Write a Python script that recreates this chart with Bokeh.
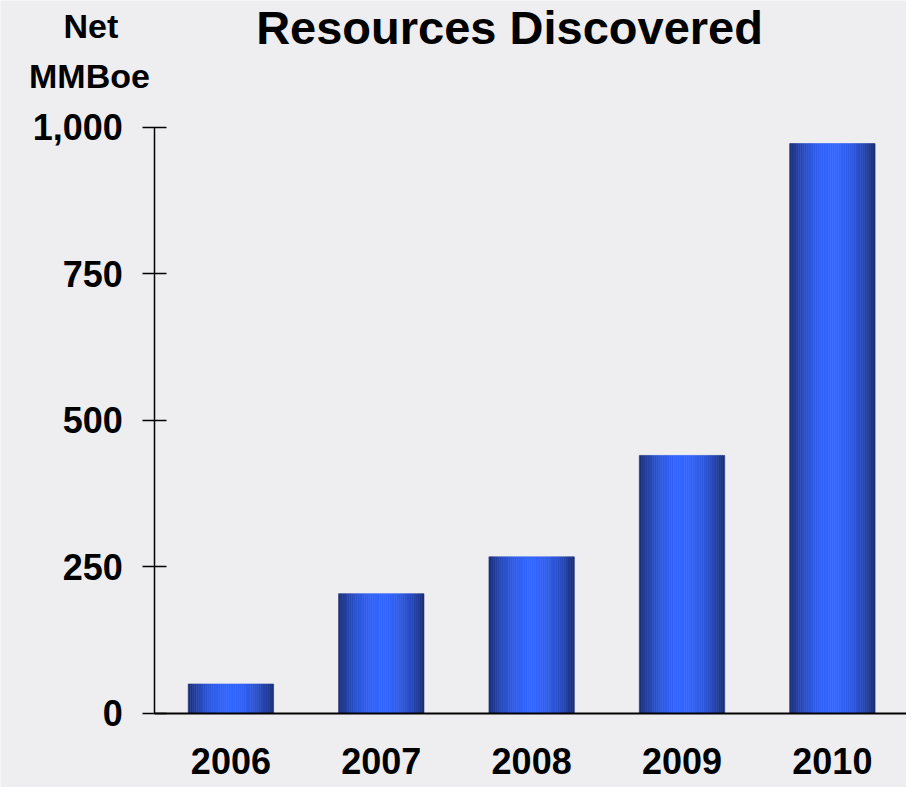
import numpy as np
from bokeh.plotting import figure
from bokeh.models import Range1d, FixedTicker, NumeralTickFormatter, Label, ColumnDataSource
from bokeh.embed import file_html
from bokeh.resources import INLINE

# ---- data ----
years = ["2006", "2007", "2008", "2009", "2010"]
resources = [50, 204, 267, 440, 972]
y_ticks = [0, 250, 500, 750, 1000]
title_text = "Resources Discovered"
unit_lines = ["Net", "MMBoe"]

BG = "#eeeef0"
FONT = "Liberation Sans"
edge_rgb = np.array([27, 46, 116])
center_rgb = np.array([51, 102, 255])

Y_AXIS_X = -0.506   # data x where the value axis stands

p = figure(width=906, height=787, output_backend="svg", toolbar_location=None,
           x_range=Range1d(-1.5324, 4.493), y_range=Range1d(-126.6, 1216.2),
           min_border_left=0, min_border_right=0, min_border_top=0, min_border_bottom=0,
           title=None)
p.background_fill_color = BG
p.border_fill_color = BG
p.outline_line_color = None
p.grid.visible = False

# ---- gradient bars (vertical slices of each bar) ----
N = 40
bar_w = 0.568
u = (np.arange(N) + 0.5) / N
t = np.abs(u - 0.5) / 0.5
w = 1 - t ** 2.0
slice_cols = ["#%02x%02x%02x" % tuple(np.round(edge_rgb + (center_rgb - edge_rgb) * wi).astype(int)) for wi in w]
xs, tops, cs = [], [], []
for i, v in enumerate(resources):
    for k in range(N):
        xs.append(i - bar_w / 2 + (k + 0.5) * bar_w / N)
        tops.append(v)
        cs.append(slice_cols[k])
src = ColumnDataSource(dict(x=xs, top=tops, color=cs))
p.vbar(x="x", top="top", bottom=0, width=bar_w / N, fill_color="color",
       line_color="color", line_width=0.6, source=src)

# ---- x axis at y=0 ----
xa = p.xaxis[0]
xa.fixed_location = 0
xa.bounds = (Y_AXIS_X, 4.493)
xa.ticker = FixedTicker(ticks=list(range(len(years))))
xa.major_label_overrides = {i: yv for i, yv in enumerate(years)}
xa.major_tick_line_color = None
xa.minor_tick_line_color = None
xa.axis_line_color = "#000000"
xa.axis_line_width = 2
xa.major_label_standoff = 29
xa.major_label_text_font = FONT
xa.major_label_text_font_style = "bold"
xa.major_label_text_font_size = "36px"
xa.major_label_text_color = "#000000"

# ---- y axis at fixed x ----
ya = p.yaxis[0]
ya.fixed_location = Y_AXIS_X
ya.bounds = (0, 1000)
ya.ticker = FixedTicker(ticks=y_ticks)
ya.formatter = NumeralTickFormatter(format="0,0")
ya.major_tick_in = 12
ya.major_tick_out = 12
ya.major_tick_line_width = 1.5
ya.major_tick_line_color = "#000000"
ya.minor_tick_line_color = None
ya.axis_line_color = "#000000"
ya.axis_line_width = 1.5
ya.major_label_standoff = 20
ya.major_label_text_font = FONT
ya.major_label_text_font_style = "bold"
ya.major_label_text_font_size = "36px"
ya.major_label_text_color = "#000000"

# ---- titles ----
p.add_layout(Label(x=1.853, y=1170, text=title_text, text_align="center",
                   text_baseline="alphabetic", text_font=FONT, text_font_style="bold",
                   text_font_size="47px", text_color="#000000"))
p.add_layout(Label(x=-0.931, y=1173.5, text=unit_lines[0], text_align="center",
                   text_baseline="alphabetic", text_font=FONT, text_font_style="bold",
                   text_font_size="34px", text_color="#000000"))
p.add_layout(Label(x=-0.941, y=1088.2, text=unit_lines[1], text_align="center",
                   text_baseline="alphabetic", text_font=FONT, text_font_style="bold",
                   text_font_size="34px", text_color="#000000"))

open("out.html", "w").write(file_html(p, INLINE))
